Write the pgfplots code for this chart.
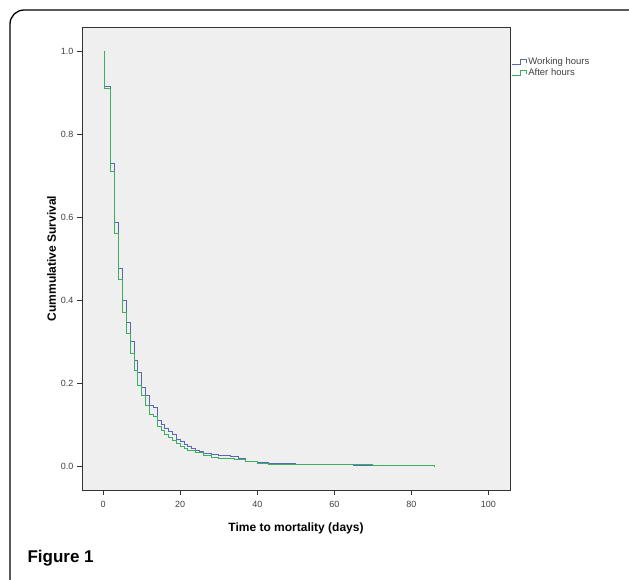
\documentclass[border=0pt]{standalone}
\usepackage{pgfplots}
\pgfplotsset{compat=1.18}
\usepackage{fontspec}
\setmainfont{Liberation Sans}
\definecolor{workblue}{RGB}{88,104,182}
\definecolor{aftgreen}{RGB}{58,176,92}
\definecolor{plotbg}{RGB}{239,239,239}

% Kaplan-Meier estimates
\pgfplotstableread{
t   s
0.4 1.000
0.41 0.915
1.8 0.730
3   0.588
4   0.476
5   0.400
6   0.345
7   0.300
8   0.255
9   0.225
10  0.190
11  0.170
12  0.145
13  0.140
14  0.110
15  0.100
16  0.090
17  0.083
18  0.075
19  0.065
20  0.058
21  0.052
22  0.047
23  0.042
24  0.038
25  0.034
26  0.030
28  0.028
30  0.026
33  0.022
35  0.017
37  0.012
40  0.008
43  0.005
50  0.004
55  0.003
65  0.002
72  0.001
86  0.000
}\workhours

\pgfplotstableread{
t   s
0.4 1.000
0.41 0.910
1.8 0.710
3   0.560
4   0.450
5   0.370
6   0.320
7   0.270
8   0.230
9   0.195
10  0.170
11  0.145
12  0.125
13  0.120
14  0.095
15  0.085
16  0.075
17  0.068
18  0.062
19  0.055
20  0.048
21  0.043
22  0.038
24  0.032
26  0.025
28  0.020
30  0.018
34  0.015
37  0.010
40  0.006
43  0.004
55  0.003
70  0.001
86  0.000
}\afterhours

\begin{document}
\begin{tikzpicture}
\useasboundingbox (0pt,0pt) rectangle (629pt,-579pt);
\draw[line width=1.3pt, rounded corners=14pt] (10pt,-10pt) rectangle (660pt,-620pt);
\node[anchor=west, font=\fontsize{17}{20}\selectfont\bfseries] at (24pt,-558pt) {Figure 1};
\begin{axis}[
    at={(82pt,-27pt)}, anchor=north west,
    scale only axis,
    width=428pt, height=463pt,
    xmin=-5.5, xmax=105.6,
    ymin=-0.058, ymax=1.058,
    axis background/.style={fill=plotbg},
    axis line style={black!80, line width=0.8pt},
    tick align=outside,
    xtick pos=bottom, ytick pos=left,
    major tick length=5pt,
    tick style={black!80, line width=0.8pt},
    xtick={0,20,40,60,80,100},
    ytick={0,0.2,0.4,0.6,0.8,1.0},
    yticklabel style={/pgf/number format/fixed, /pgf/number format/fixed zerofill, /pgf/number format/precision=1},
    xticklabel style={yshift=-3pt},
    /pgf/number format/assume math mode=true,
    ticklabel style={font=\fontsize{9}{10}\selectfont, text=black!75},
    xlabel={Time to mortality (days)},
    ylabel={Cummulative Survival},
    label style={font=\fontsize{12}{14}\selectfont\bfseries},
    xlabel style={yshift=-8pt},
    ylabel style={yshift=-2pt},
    legend style={at={(1.004,0.937)}, anchor=north west, draw=none, fill=none,
        font=\fontsize{9.5}{10}\selectfont, text=black!75,
        row sep=-0.5pt, inner sep=0pt, nodes={inner sep=1.5pt}},
    legend cell align=left,
    legend image code/.code={\draw[#1] (0pt,-2.5pt) -- (8pt,-2.5pt) -- (8pt,3pt) -- (14pt,3pt) -- (14pt,-1pt);},
]
\addplot[const plot, workblue, line width=0.9pt] table[x=t, y=s] {\workhours};
\addlegendentry{Working hours}
\addplot[const plot, aftgreen, line width=0.9pt] table[x=t, y=s] {\afterhours};
\addlegendentry{After hours}
\end{axis}
\end{tikzpicture}
\end{document}
